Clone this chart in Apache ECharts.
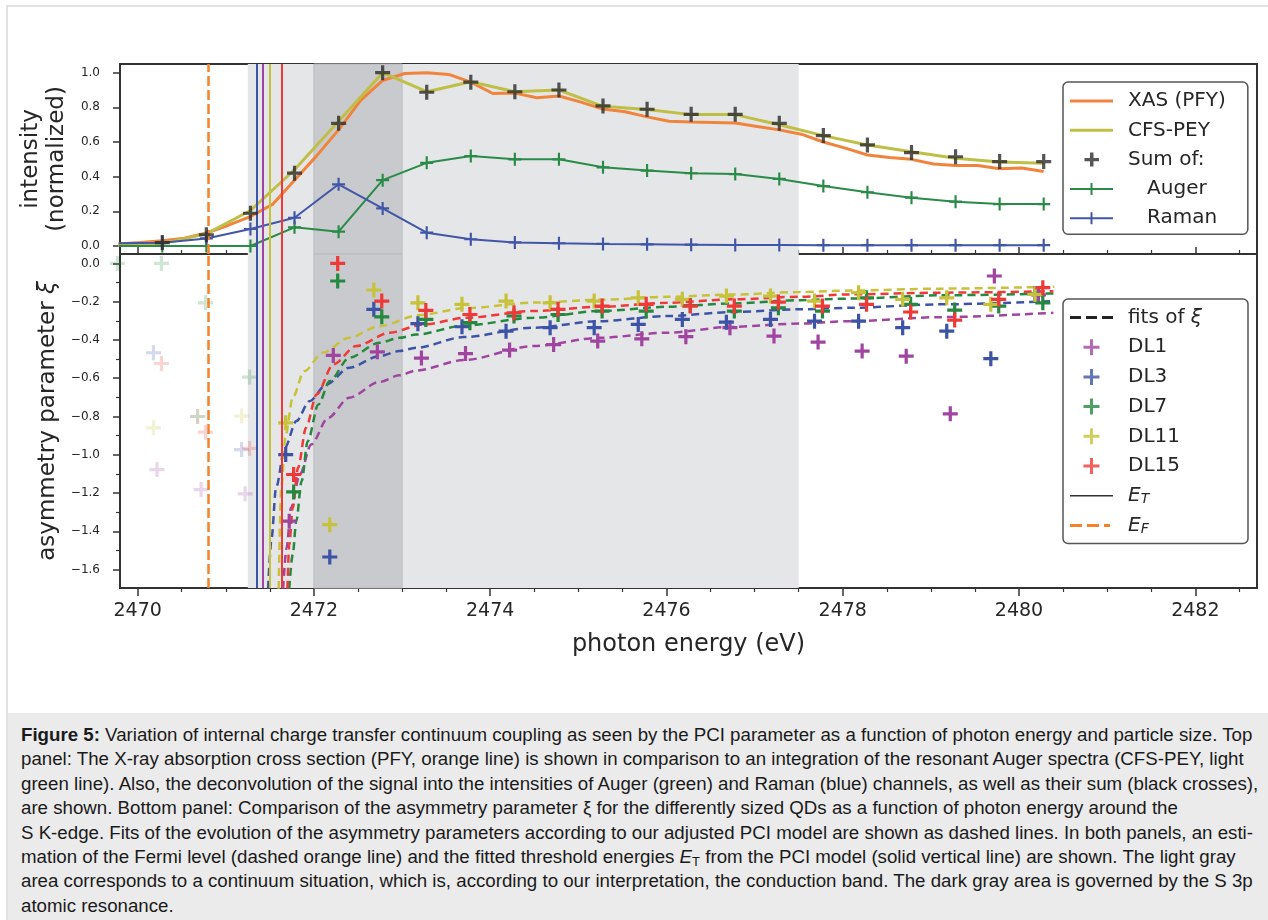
<!DOCTYPE html>
<html lang="en">
<head>
<meta charset="UTF-8">
<script src="https://cdn.jsdelivr.net/npm/echarts@6/dist/echarts.min.js"></script>
<style>
  body { margin: 0; background: #fff; }
  #frame { position: absolute; left: 6px; top: 5px; width: 1262px; height: 915px;
           border-left: 2px solid #e2e2e2; border-top: 2px solid #e2e2e2; }
  #main { position: absolute; left: 0; top: 0; width: 1268px; height: 712px; }
  #caption { position: absolute; left: 8px; top: 713px; width: 1260px; height: 207px;
             box-sizing: border-box; padding: 10px 0 0 13px; background: #ebebeb;
             font-family: "Liberation Sans", Arial, sans-serif; font-size: 18.7px;
             line-height: 24.4px; color: #1a1a1a; white-space: nowrap; }
  #caption sub { font-size: 13px; line-height: 0; vertical-align: -3px; }
</style>
</head>
<body>
<div id="frame"></div>
<div id="main"></div>
<div id="caption">
<b>Figure 5:</b> Variation of internal charge transfer continuum coupling as seen by the PCI parameter as a function of photon energy and particle size. Top<br>
panel: The X-ray absorption cross section (PFY, orange line) is shown in comparison to an integration of the resonant Auger spectra (CFS-PEY, light<br>
green line). Also, the deconvolution of the signal into the intensities of Auger (green) and Raman (blue) channels, as well as their sum (black crosses),<br>
are shown. Bottom panel: Comparison of the asymmetry parameter ξ for the differently sized QDs as a function of photon energy around the<br>
S K-edge. Fits of the evolution of the asymmetry parameters according to our adjusted PCI model are shown as dashed lines. In both panels, an esti-<br>
mation of the Fermi level (dashed orange line) and the fitted threshold energies <i>E</i><sub>T</sub> from the PCI model (solid vertical line) are shown. The light gray<br>
area corresponds to a continuum situation, which is, according to our interpretation, the conduction band. The dark gray area is governed by the S 3p<br>
atomic resonance.
</div>

<script type="text/javascript">
// ---- top panel: spectra (photon energy in eV) ----
var eSum = [2469.78, 2470.28, 2470.78, 2471.28, 2471.78, 2472.28, 2472.78, 2473.28, 2473.78, 2474.28, 2474.78,
            2475.28, 2475.78, 2476.28, 2476.78, 2477.28, 2477.78, 2478.28, 2478.78, 2479.28, 2479.78, 2480.28];
var sumY   = [0.016, 0.02, 0.065, 0.189, 0.42, 0.708, 1.0, 0.887, 0.945, 0.89, 0.90,
              0.808, 0.789, 0.76, 0.76, 0.708, 0.637, 0.583, 0.539, 0.515, 0.487, 0.487];
var cfsY   = [0.005, 0.015, 0.07, 0.205, 0.44, 0.72, 1.0, 0.89, 0.948, 0.89, 0.90,
              0.806, 0.787, 0.758, 0.758, 0.70, 0.637, 0.583, 0.544, 0.506, 0.485, 0.477];
var augerY = [0, 0, 0, 0, 0.108, 0.083, 0.38, 0.48, 0.519, 0.50, 0.50,
              0.454, 0.435, 0.42, 0.415, 0.387, 0.346, 0.31, 0.279, 0.256, 0.242, 0.242];
var ramanY = [0.016, 0.019, 0.044, 0.098, 0.163, 0.356, 0.217, 0.077, 0.039, 0.021, 0.016,
              0.012, 0.01, 0.008, 0.006, 0.006, 0.005, 0.005, 0.005, 0.005, 0.005, 0.005];

var eXas = [2469.78, 2470.03, 2470.28, 2470.53, 2470.78, 2471.03, 2471.28, 2471.53, 2471.78, 2472.03, 2472.28,
            2472.53, 2472.78, 2473.03, 2473.28, 2473.53, 2473.78, 2474.03, 2474.28, 2474.53, 2474.78, 2475.03,
            2475.28, 2475.53, 2475.78, 2476.03, 2476.28, 2476.53, 2476.78, 2477.03, 2477.28, 2477.53, 2477.78,
            2478.03, 2478.28, 2478.53, 2478.78, 2479.03, 2479.28, 2479.53, 2479.78, 2480.03, 2480.28];
var xasY = [0.012, 0.02, 0.03, 0.045, 0.075, 0.12, 0.17, 0.24, 0.38, 0.52, 0.67,
            0.84, 0.955, 0.995, 1.0, 0.99, 0.945, 0.88, 0.882, 0.855, 0.865, 0.83,
            0.79, 0.775, 0.745, 0.72, 0.715, 0.713, 0.71, 0.69, 0.67, 0.645, 0.60,
            0.565, 0.525, 0.51, 0.50, 0.473, 0.465, 0.465, 0.446, 0.45, 0.43];

// ---- bottom panel: asymmetry parameter xi per sample ----
var eDL1  = [2470.22, 2470.72, 2471.22, 2471.72, 2472.22, 2472.72, 2473.22, 2473.72, 2474.22, 2474.72, 2475.22,
             2475.72, 2476.22, 2476.72, 2477.22, 2477.72, 2478.22, 2478.72, 2479.22, 2479.72, 2480.22];
var xiDL1 = [-1.077, -1.182, -1.204, -1.347, -0.481, -0.462, -0.495, -0.471, -0.453, -0.424, -0.406,
             -0.394, -0.383, -0.336, -0.38, -0.411, -0.458, -0.485, -0.786, -0.066, -0.165];
var eDL3  = [2470.18, 2470.68, 2471.18, 2471.68, 2472.18, 2472.68, 2473.18, 2473.68, 2474.18, 2474.68, 2475.18,
             2475.68, 2476.18, 2476.68, 2477.18, 2477.68, 2478.18, 2478.68, 2479.18, 2479.68, 2480.18];
var xiDL3 = [-0.467, -0.80, -0.973, -0.999, -1.534, -0.24, -0.315, -0.331, -0.354, -0.336, -0.336,
             -0.319, -0.293, -0.307, -0.293, -0.302, -0.302, -0.336, -0.354, -0.498, -0.16];
var eDL7  = [2469.77, 2470.27, 2470.77, 2471.27, 2471.77, 2472.27, 2472.77, 2473.27, 2473.77, 2474.27, 2474.77,
             2475.27, 2475.77, 2476.27, 2476.77, 2477.27, 2477.77, 2478.27, 2478.77, 2479.27, 2479.77, 2480.27];
var xiDL7 = [0.0, 0.0, -0.206, -0.594, -1.194, -0.092, -0.279, -0.293, -0.31, -0.275, -0.267,
             -0.249, -0.249, -0.22, -0.249, -0.232, -0.249, -0.18, -0.214, -0.244, -0.223, -0.206];
var eDL11  = [2470.18, 2470.68, 2471.18, 2471.68, 2472.18, 2472.68, 2473.18, 2473.68, 2474.18, 2474.68, 2475.18,
              2475.68, 2476.18, 2476.68, 2477.18, 2477.68, 2478.18, 2478.68, 2479.18, 2479.68, 2480.18];
var xiDL11 = [-0.859, -0.80, -0.798, -0.833, -1.365, -0.139, -0.206, -0.214, -0.197, -0.206, -0.197,
              -0.18, -0.188, -0.171, -0.171, -0.197, -0.153, -0.188, -0.18, -0.214, -0.162];
var eDL15  = [2470.27, 2470.77, 2471.27, 2471.77, 2472.27, 2472.77, 2473.27, 2473.77, 2474.27, 2474.77, 2475.27,
              2475.77, 2476.27, 2476.77, 2477.27, 2477.77, 2478.27, 2478.77, 2479.27, 2479.77, 2480.27];
var xiDL15 = [-0.523, -0.882, -0.967, -1.103, 0.0, -0.197, -0.246, -0.267, -0.258, -0.24, -0.223,
              -0.214, -0.223, -0.223, -0.202, -0.223, -0.214, -0.254, -0.296, -0.188, -0.127];

// PCI fit curves
var eFit1  = [2471.65, 2471.69, 2471.74, 2471.84, 2471.97, 2472.16, 2472.40, 2472.74, 2472.97, 2473.16, 2473.70,
              2474.49, 2475.24, 2476.00, 2476.76, 2477.52, 2478.08, 2479.11, 2480.39];
var xiFit1 = [-1.70, -1.487, -1.277, -1.103, -0.946, -0.807, -0.702, -0.62, -0.585, -0.56, -0.505,
              -0.432, -0.389, -0.362, -0.331, -0.314, -0.302, -0.281, -0.258];
var eFit3  = [2471.48, 2471.52, 2471.57, 2471.67, 2471.80, 2471.95, 2472.14, 2472.40, 2472.74, 2472.97, 2473.16,
              2473.70, 2474.49, 2475.24, 2476.00, 2476.76, 2477.52, 2478.08, 2479.11, 2480.39];
var xiFit3 = [-1.70, -1.434, -1.173, -0.964, -0.824, -0.72, -0.633, -0.545, -0.485, -0.458, -0.441,
              -0.385, -0.336, -0.302, -0.275, -0.254, -0.24, -0.232, -0.214, -0.197];
var eFit7  = [2471.72, 2471.76, 2471.80, 2471.86, 2471.93, 2472.05, 2472.18, 2472.40, 2472.74, 2472.97, 2473.16,
              2473.70, 2474.49, 2475.24, 2476.00, 2476.76, 2477.52, 2478.08, 2479.11, 2480.39];
var xiFit7 = [-1.70, -1.52, -1.347, -1.138, -0.929, -0.737, -0.615, -0.493, -0.415, -0.389, -0.372,
              -0.325, -0.284, -0.249, -0.227, -0.209, -0.192, -0.184, -0.167, -0.157];
var eFit11  = [2471.60, 2471.63, 2471.68, 2471.76, 2471.89, 2472.10, 2472.40, 2472.74, 2473.20, 2473.70,
               2474.50, 2475.25, 2476.00, 2476.75, 2477.50, 2478.10, 2479.10, 2480.40];
var xiFit11 = [-1.70, -1.17, -0.894, -0.70, -0.563, -0.467, -0.388, -0.328, -0.27, -0.235,
               -0.205, -0.19, -0.175, -0.163, -0.15, -0.142, -0.132, -0.122];
var eFit15  = [2471.70, 2471.72, 2471.76, 2471.82, 2471.91, 2472.03, 2472.22, 2472.48, 2472.86, 2473.24,
               2473.73, 2474.49, 2475.24, 2476.00, 2476.76, 2477.52, 2478.08, 2479.11, 2480.39];
var xiFit15 = [-1.70, -1.47, -1.277, -1.068, -0.859, -0.685, -0.528, -0.432, -0.362, -0.319,
               -0.284, -0.249, -0.227, -0.206, -0.188, -0.174, -0.162, -0.153, -0.145];

// threshold energies E_T (DL1, DL3, DL7, DL11, DL15), Fermi level, shaded bands
var eThreshold = [2471.42, 2471.35, 2471.64, 2471.50, 2471.64];
var eFermi = 2470.8;
var lightBand = [2471.25, 2477.5];
var darkBand = [2472.0, 2473.0];

// ticks
var xMajorTicks = [2470, 2472, 2474, 2476, 2478, 2480, 2482];
var xMinorTicks = [2470.5, 2471, 2471.5, 2472.5, 2473, 2473.5, 2474.5, 2475, 2475.5, 2476.5, 2477, 2477.5,
                   2478.5, 2479, 2479.5, 2480.5, 2481, 2481.5, 2482.5];
var yTopTicks = [0, 0.2, 0.4, 0.6, 0.8, 1.0];
var yBotTicks = [0, -0.2, -0.4, -0.6, -0.8, -1.0, -1.2, -1.4, -1.6];
var yBotMinor = [-0.1, -0.3, -0.5, -0.7, -0.9, -1.1, -1.3, -1.5];

var dlNames  = ['DL1', 'DL3', 'DL7', 'DL11', 'DL15'];
var dlColors = ['#a0459f', '#3d53a6', '#24883f', '#c6c23a', '#ef3838'];

var FONT = 'DejaVu Sans';
var INK = '#262626';
var plusThick = 'path://M5.5,0L8.5,0L8.5,5.5L14,5.5L14,8.5L8.5,8.5L8.5,14L5.5,14L5.5,8.5L0,8.5L0,5.5L5.5,5.5Z';
var plusThin = 'path://M5,0L7,0L7,5L12,5L12,7L7,7L7,12L5,12L5,7L0,7L0,5L5,5Z';

// legend icons drawn inside a 53x16 box (line part 43px wide)
var BOX = 'M0,0M53,16';
var icLine = 'path://' + BOX + 'M0,6.5L43,6.5L43,9.5L0,9.5Z';
var icThinLine = 'path://' + BOX + 'M0,7.2L43,7.2L43,8.8L0,8.8Z';
var icLinePlus = 'path://' + BOX + 'M0,7L43,7L43,9L0,9ZM20.5,2L22.5,2L22.5,14L20.5,14Z';
var icPlus = 'path://' + BOX + 'M20,1L23.5,1L23.5,15L20,15ZM14.5,6.3L29,6.3L29,9.7L14.5,9.7Z';
var icDlPlus = 'path://' + BOX + 'M20,0L23,0L23,16L20,16ZM13.5,6.5L29.5,6.5L29.5,9.5L13.5,9.5Z';
var icDash = 'path://' + BOX + 'M0,6.5L11,6.5L11,9.5L0,9.5ZM16,6.5L27,6.5L27,9.5L16,9.5ZM32,6.5L43,6.5L43,9.5L32,9.5Z';
var icDashF = 'path://' + BOX + 'M0,6.5L12,6.5L12,9.5L0,9.5ZM17,6.5L29,6.5L29,9.5L17,9.5ZM34,6.5L40,6.5L40,9.5L34,9.5Z';

function pairs(xs, ys) {
    return xs.map(function (x, i) { return [x, ys[i]]; });
}

function fmt1(v) {
    return (v < -1e-9 ? '\u2212' : '') + Math.abs(v).toFixed(1);
}

var chart = echarts.init(document.getElementById('main'));

var bands = [
    [{ xAxis: lightBand[0], itemStyle: { color: '#e5e6e8' } }, { xAxis: lightBand[1] }],
    [{ xAxis: darkBand[0], itemStyle: { color: '#c9cacd', borderColor: '#b9babd', borderWidth: 1 } }, { xAxis: darkBand[1] }]
];

function shadeSeries(k) {
    return {
        name: 'shade' + k, type: 'line', xAxisIndex: k * 2, yAxisIndex: k, data: [], z: -1, silent: true,
        markArea: { silent: true, data: bands }
    };
}

function fermiSeries(k) {
    return {
        name: 'E_F', type: 'line', xAxisIndex: k * 2, yAxisIndex: k, data: [], z: 1, color: '#f5822a',
        lineStyle: { color: '#f5822a', width: 2.5, type: [10, 4] },
        markLine: {
            silent: true, symbol: ['none', 'none'], label: { show: false },
            lineStyle: { color: '#f5822a', width: 2.5, type: [10, 4] },
            data: [{ xAxis: eFermi }]
        }
    };
}

function thresholdSeries(k) {
    return {
        name: 'E_T', type: 'line', xAxisIndex: k * 2, yAxisIndex: k, data: [], z: 1, color: '#333',
        lineStyle: { color: '#333', width: 2 },
        markLine: {
            silent: true, symbol: ['none', 'none'], label: { show: false },
            data: [2, 0, 1, 3, 4].map(function (i) {
                return { xAxis: eThreshold[i], lineStyle: { color: dlColors[i], width: 2, type: 'solid' } };
            })
        }
    };
}

var series = [
    shadeSeries(0), shadeSeries(1),
    fermiSeries(0), fermiSeries(1),
    thresholdSeries(0), thresholdSeries(1),
    {
        name: 'XAS (PFY)', type: 'line', xAxisIndex: 0, yAxisIndex: 0, data: pairs(eXas, xasY),
        color: '#f0843c', symbol: 'none', lineStyle: { width: 3 }, z: 2
    },
    {
        name: 'CFS-PEY', type: 'line', xAxisIndex: 0, yAxisIndex: 0, data: pairs(eSum, cfsY),
        color: '#bfbf47', symbol: 'none', lineStyle: { width: 3 }, z: 3
    },
    {
        name: 'Auger', type: 'line', xAxisIndex: 0, yAxisIndex: 0, data: pairs(eSum, augerY),
        color: '#2a8a48', symbol: plusThin, symbolSize: 13, showAllSymbol: true, lineStyle: { width: 2 }, z: 3
    },
    {
        name: 'Raman', type: 'line', xAxisIndex: 0, yAxisIndex: 0, data: pairs(eSum, ramanY),
        color: '#4256a8', symbol: plusThin, symbolSize: 13, showAllSymbol: true, lineStyle: { width: 2 }, z: 3
    },
    {
        name: 'Sum of:', type: 'scatter', xAxisIndex: 0, yAxisIndex: 0, data: pairs(eSum, sumY),
        color: '#2b2b2b', symbol: plusThick, symbolSize: 15, z: 5
    },
    {
        name: 'fits of ξ', type: 'line', xAxisIndex: 2, yAxisIndex: 1, data: [], color: '#222',
        symbol: 'none', lineStyle: { type: [8, 5], width: 2.5 }
    }
];

var fitE = [eFit1, eFit3, eFit7, eFit11, eFit15];
var fitXi = [xiFit1, xiFit3, xiFit7, xiFit11, xiFit15];
var dlE = [eDL1, eDL3, eDL7, eDL11, eDL15];
var dlXi = [xiDL1, xiDL3, xiDL7, xiDL11, xiDL15];

dlNames.forEach(function (n, i) {
    series.push({
        name: 'fit ' + n, type: 'line', xAxisIndex: 2, yAxisIndex: 1, data: pairs(fitE[i], fitXi[i]),
        color: dlColors[i], symbol: 'none', smooth: 0.3, smoothMonotone: 'x',
        lineStyle: { type: [8, 5], width: 2.5 }, z: 2
    });
});
dlNames.forEach(function (n, i) {
    // points below the sample's threshold energy are drawn faded
    var pts = dlE[i].map(function (x, j) {
        return { value: [x, dlXi[i][j]], itemStyle: { opacity: x < eThreshold[i] ? 0.22 : 1 } };
    });
    series.push({
        name: n, type: 'scatter', xAxisIndex: 2, yAxisIndex: 1, data: pts, clip: false,
        color: dlColors[i], symbol: plusThick, symbolSize: 15, z: 4
    });
});

function xAxisPair(grid, bottomPanel) {
    var base = { type: 'value', gridIndex: grid, min: 2469.8, max: 2482.7, position: 'bottom',
                 axisLine: { show: false, onZero: false }, splitLine: { show: false } };
    var major = Object.assign({}, base, {
        axisTick: { show: true, inside: !bottomPanel, length: bottomPanel ? 8 : 7, customValues: xMajorTicks,
                    lineStyle: { color: '#333', width: 1.5 } },
        axisLabel: bottomPanel ? { show: true, customValues: xMajorTicks, fontFamily: FONT, fontSize: 19, color: INK,
                                   margin: 14, formatter: function (v) { return String(v); } }
                               : { show: false }
    });
    if (bottomPanel) {
        major.name = 'photon energy (eV)';
        major.nameLocation = 'middle';
        major.nameGap = 45;
        major.nameTextStyle = { fontFamily: FONT, fontSize: 24, color: INK };
    }
    var minor = Object.assign({}, base, {
        axisTick: { show: true, inside: !bottomPanel, length: 4, customValues: xMinorTicks,
                    lineStyle: { color: '#333', width: 1.2 } },
        axisLabel: { show: false }
    });
    return [major, minor];
}

var option = {
    animation: false,
    backgroundColor: 'transparent',
    grid: [
        { left: 120, top: 64, width: 1137, height: 190, show: true, borderColor: '#333', borderWidth: 2 },
        { left: 120, top: 254, width: 1137, height: 334, show: true, borderColor: '#333', borderWidth: 2 }
    ],
    xAxis: xAxisPair(0, false).concat(xAxisPair(1, true)),
    yAxis: [
        {
            type: 'value', gridIndex: 0, min: -0.046, max: 1.05, position: 'left',
            axisLine: { show: false, onZero: false }, splitLine: { show: false },
            axisTick: { show: true, length: 7, customValues: yTopTicks, lineStyle: { color: '#333', width: 1.5 } },
            axisLabel: { customValues: yTopTicks, formatter: fmt1, fontFamily: FONT, fontSize: 12, color: INK, margin: 20 },
            name: 'intensity\n(normalized)', nameLocation: 'middle', nameGap: 40, nameRotate: 90,
            nameTextStyle: { fontFamily: FONT, fontSize: 23, lineHeight: 26, color: INK }
        },
        {
            type: 'value', gridIndex: 1, min: -1.696, max: 0.049, position: 'left',
            axisLine: { show: false, onZero: false }, splitLine: { show: false },
            axisTick: { show: true, length: 7, customValues: yBotTicks, lineStyle: { color: '#333', width: 1.5 } },
            axisLabel: { customValues: yBotTicks, formatter: fmt1, fontFamily: FONT, fontSize: 12, color: INK, margin: 20 },
            name: 'asymmetry parameter {i|ξ}', nameLocation: 'middle', nameGap: 54, nameRotate: 90,
            nameTextStyle: { fontFamily: FONT, fontSize: 23, color: INK,
                             rich: { i: { fontFamily: FONT, fontSize: 23, fontStyle: 'italic', color: INK } } }
        },
        {
            type: 'value', gridIndex: 1, min: -1.696, max: 0.049, position: 'left',
            axisLine: { show: false, onZero: false }, splitLine: { show: false },
            axisTick: { show: true, length: 4, customValues: yBotMinor, lineStyle: { color: '#333', width: 1.2 } },
            axisLabel: { show: false }
        }
    ],
    legend: [
        {
            orient: 'vertical', left: 1063, top: 82, padding: [8, 22, 5, 7], itemGap: 7.3,
            itemWidth: 53, itemHeight: 16, selectedMode: false,
            backgroundColor: 'rgba(255,255,255,0.85)', borderColor: '#555', borderWidth: 1.5, borderRadius: 5,
            itemStyle: { borderWidth: 0 },
            textStyle: { fontFamily: FONT, fontSize: 20, color: INK, lineHeight: 22 },
            formatter: function (name) {
                return (name === 'Auger' || name === 'Raman') ? '   ' + name : name;
            },
            data: [
                { name: 'XAS (PFY)', icon: icLine },
                { name: 'CFS-PEY', icon: icLine },
                { name: 'Sum of:', icon: icPlus },
                { name: 'Auger', icon: icLinePlus },
                { name: 'Raman', icon: icLinePlus }
            ]
        },
        {
            orient: 'vertical', left: 1063, top: 299, padding: [7.5, 46, 7, 7], itemGap: 7.7,
            itemWidth: 53, itemHeight: 16, selectedMode: false,
            backgroundColor: 'rgba(255,255,255,0.85)', borderColor: '#555', borderWidth: 1.5, borderRadius: 5,
            itemStyle: { borderWidth: 0 },
            textStyle: {
                fontFamily: FONT, fontSize: 20, color: INK, lineHeight: 22,
                rich: {
                    i: { fontFamily: FONT, fontSize: 20, fontStyle: 'italic', color: INK, lineHeight: 22 },
                    s: { fontFamily: FONT, fontSize: 14, fontStyle: 'italic', color: INK, lineHeight: 14, verticalAlign: 'bottom' }
                }
            },
            formatter: function (name) {
                if (name === 'E_T') return '{i|E}{s|T}';
                if (name === 'E_F') return '{i|E}{s|F}';
                if (name === 'fits of ξ') return 'fits of {i|ξ}';
                return name;
            },
            data: [
                { name: 'fits of ξ', icon: icDash },
                { name: 'DL1', icon: icDlPlus },
                { name: 'DL3', icon: icDlPlus },
                { name: 'DL7', icon: icDlPlus },
                { name: 'DL11', icon: icDlPlus },
                { name: 'DL15', icon: icDlPlus },
                { name: 'E_T', icon: icThinLine },
                { name: 'E_F', icon: icDashF }
            ]
        }
    ],
    series: series
};

chart.setOption(option);
</script>
</body>
</html>
